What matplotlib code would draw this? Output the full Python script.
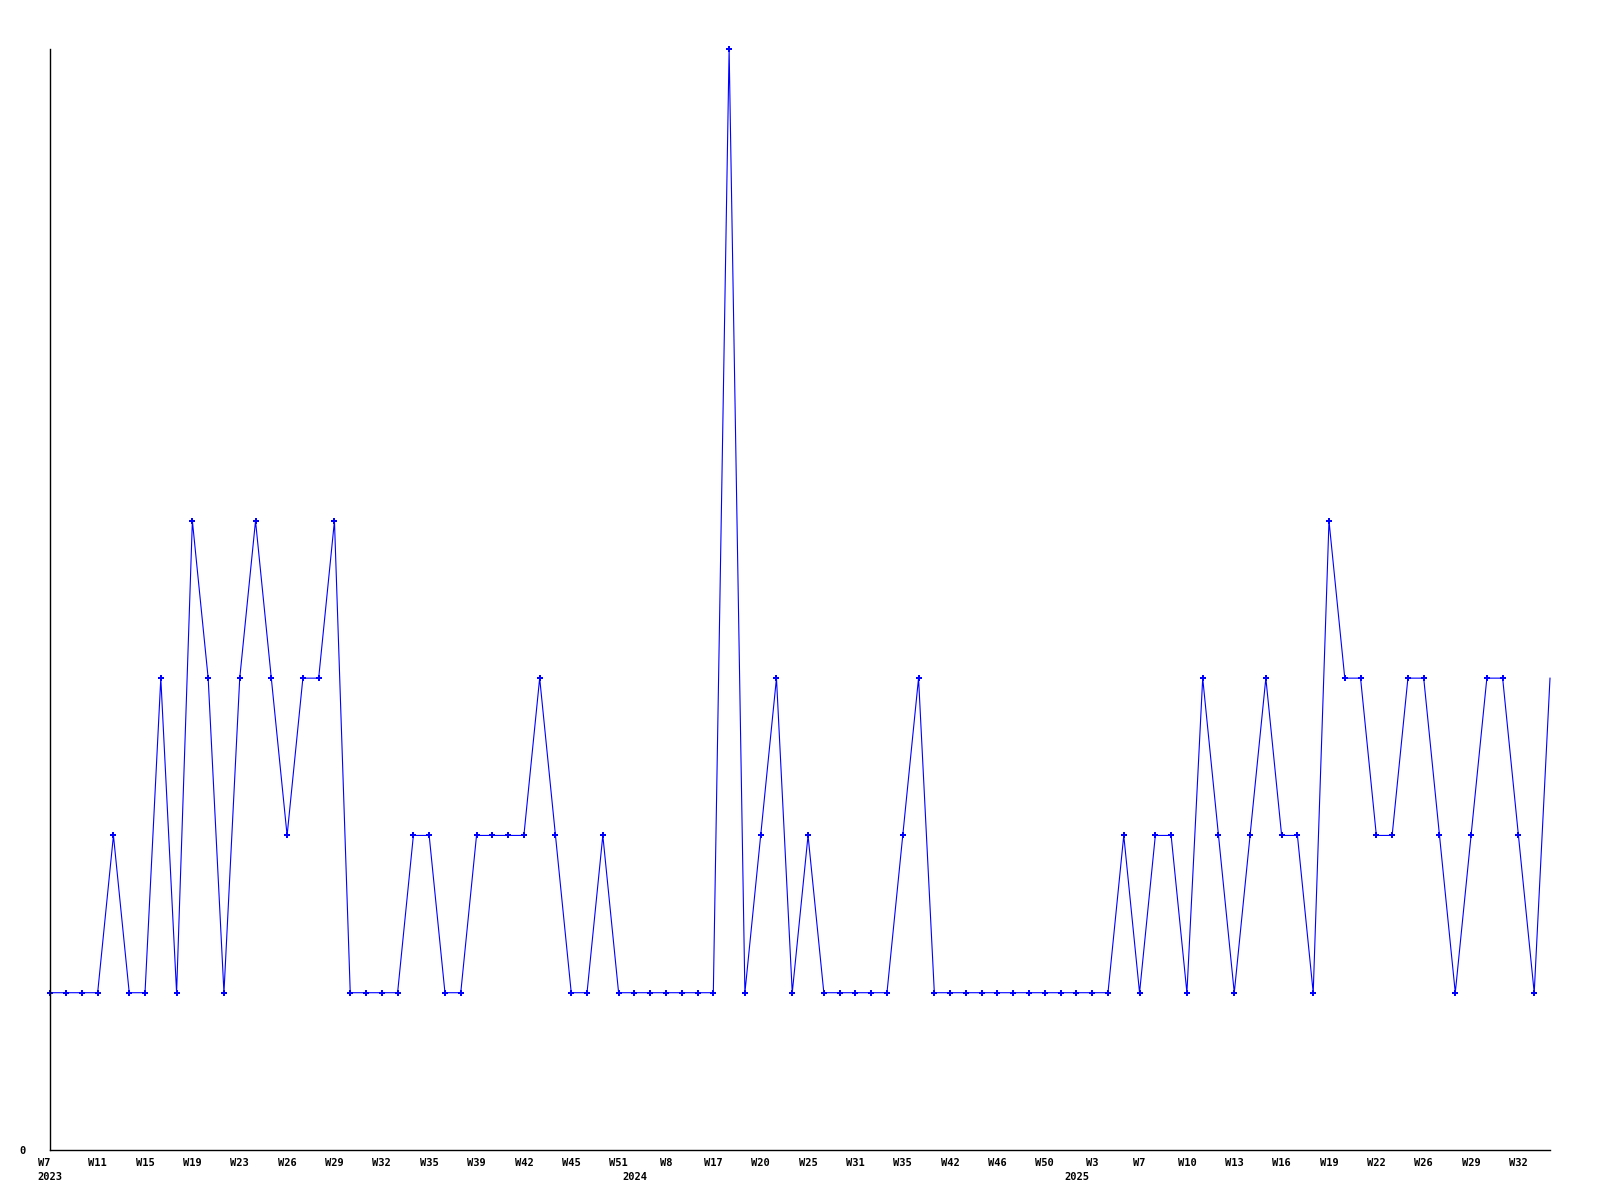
import matplotlib

matplotlib.use("Agg")
import matplotlib.pyplot as plt

# weekly counts, one per data point (gaps between weeks exist in the source)
values = [
    1, 1, 1, 1, 2, 1, 1, 3, 1, 4,
    3, 1, 3, 4, 3, 2, 3, 3, 4, 1,
    1, 1, 1, 2, 2, 1, 1, 2, 2, 2,
    2, 3, 2, 1, 1, 2, 1, 1, 1, 1,
    1, 1, 1, 7, 1, 2, 3, 1, 2, 1,
    1, 1, 1, 1, 2, 3, 1, 1, 1, 1,
    1, 1, 1, 1, 1, 1, 1, 1, 2, 1,
    2, 2, 1, 3, 2, 1, 2, 3, 2, 2,
    1, 4, 3, 3, 2, 2, 3, 3, 2, 1,
    2, 3, 3, 2, 1, 3,
]
week_labels = [
    "W7", "W11", "W15", "W19", "W23", "W26", "W29", "W32", "W35", "W39",
    "W42", "W45", "W51", "W8", "W17", "W20", "W25", "W31", "W35", "W42",
    "W46", "W50", "W3", "W7", "W10", "W13", "W16", "W19", "W22", "W26",
    "W29", "W32",
]
label_step = 3
years = ["2023", "2024", "2025"]
year_start_index = [0, 37, 65]

font = dict(family="DejaVu Sans Mono", weight="bold", size=7.5)

fig = plt.figure(figsize=(16, 12), dpi=100)
ax = fig.add_axes([50.3 / 1600, 1 - 1150 / 1200, (1550 - 50.3) / 1600, (1150 - 49) / 1200])

x = list(range(len(values)))
ax.plot(x, values, color="#0000ff", linewidth=0.8, marker="P", markersize=4,
        markeredgewidth=0, markevery=list(range(len(values) - 1)), clip_on=False)
ax.set_xlim(0, len(values) - 1)
ax.set_ylim(0, 7)

# major ticks: week labels every third point, first one also carries the year
major_pos = list(range(0, len(values), label_step))
major_lbl = list(week_labels)
major_lbl[0] = major_lbl[0] + "\n" + years[0]
ax.set_xticks(major_pos)
ax.set_xticklabels(major_lbl, fontdict=font, linespacing=1.5)
for lbl in ax.get_xticklabels():
    lbl.set_multialignment("left")

# later years sit on the second row under the first week of that year
ax.set_xticks(year_start_index[1:], minor=True)
ax.set_xticklabels(years[1:], minor=True, fontdict=font)

ax.set_yticks([0])
ax.set_yticklabels(["0"], fontdict=font)

ax.tick_params(axis="x", which="major", length=0, pad=6)
ax.tick_params(axis="x", which="minor", length=0, pad=15.5)
ax.tick_params(axis="y", length=0, pad=18)

for side in ("top", "right"):
    ax.spines[side].set_visible(False)
for side in ("left", "bottom"):
    ax.spines[side].set_linewidth(1)
    ax.spines[side].set_color("black")

fig.savefig("out.png", dpi=100)
